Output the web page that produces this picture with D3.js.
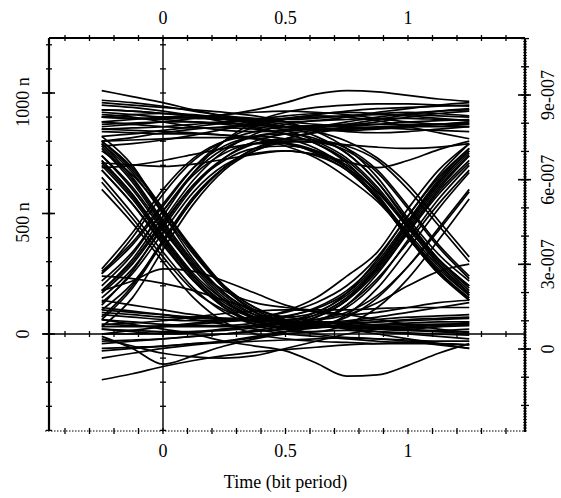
<!DOCTYPE html>
<html>
<head>
<meta charset="utf-8">
<script src="https://cdn.jsdelivr.net/npm/d3@7"></script>
<style>
body { margin: 0; background: #fff; }
text { font-family: "Liberation Serif", "Times New Roman", serif; fill: #000; }
</style>
</head>
<body>
<script>
// sample times of every trace (bit periods)
var xSamples = [-0.25, -0.125, 0, 0.125, 0.25, 0.375, 0.5, 0.625, 0.75, 0.875, 1, 1.125, 1.25];

// trace values in n (1e-9) at xSamples
var highTraces = [
  [1010, 985, 960, 930, 905, 890, 880, 885, 900, 920, 935, 950, 960],
  [930, 925, 915, 905, 895, 890, 895, 910, 925, 935, 940, 945, 950],
  [880, 890, 900, 905, 900, 885, 870, 860, 865, 880, 900, 915, 925],
  [850, 855, 860, 870, 880, 885, 880, 870, 860, 855, 860, 870, 880],
  [820, 830, 845, 860, 875, 890, 905, 915, 920, 915, 905, 895, 885],
  [950, 940, 925, 905, 880, 860, 850, 855, 870, 890, 910, 925, 935],
  [780, 790, 805, 825, 850, 875, 895, 905, 900, 885, 860, 835, 810],
  [690, 700, 720, 745, 770, 790, 800, 795, 785, 775, 770, 775, 790],
  [900, 895, 895, 900, 910, 930, 960, 995, 1010, 1005, 990, 975, 965],
  [710, 702, 695, 705, 725, 745, 760, 745, 715, 690, 720, 765, 800],
  [900, 910, 915, 910, 895, 875, 860, 850, 845, 850, 860, 870, 875],
  [860, 870, 880, 895, 910, 920, 925, 920, 910, 895, 880, 870, 860],
  [970, 960, 945, 925, 905, 895, 890, 895, 905, 915, 920, 915, 905],
  [800, 815, 835, 850, 860, 865, 860, 850, 840, 835, 840, 850, 860],
  [910, 900, 880, 860, 845, 840, 845, 860, 880, 900, 915, 925, 930]
];
var lowTraces = [
  [-190, -165, -135, -110, -90, -75, -65, -55, -45, -40, -35, -30, -30],
  [60, 40, 20, 0, -30, -50, -70, -120, -175, -170, -130, -80, -40],
  [-40, -30, -20, -10, 0, 10, 20, 30, 35, 30, 20, 10, 0],
  [20, 10, 0, 5, 20, 35, 45, 40, 25, 10, 0, -10, -20],
  [-70, -60, -50, -40, -30, -10, 10, 25, 30, 25, 20, 30, 50],
  [110, 95, 80, 60, 40, 20, 0, -10, -20, -30, -35, -40, -45],
  [-20, -50, -80, -95, -100, -90, -60, -30, 0, 20, 30, 35, 40],
  [0, 15, 30, 45, 55, 60, 55, 40, 20, 0, -20, -40, -60],
  [-10, -60, -125, -90, -50, -20, 0, 10, 15, 10, 5, 0, -5],
  [140, 120, 100, 80, 65, 55, 50, 50, 55, 70, 90, 110, 130],
  [180, 220, 270, 260, 220, 170, 120, 90, 80, 90, 110, 130, 140],
  [240, 230, 210, 180, 140, 100, 70, 60, 80, 130, 200, 260, 290],
  [90, 80, 70, 65, 60, 55, 50, 40, 30, 20, 15, 15, 20],
  [-100, -80, -60, -45, -35, -30, -25, -20, -15, -20, -30, -45, -60],
  [40, 45, 55, 70, 85, 95, 100, 95, 80, 60, 40, 20, 5]
];
var fallAtZero = [
  [630, 480, 320, 180, 100, 55, 35, 30, 35, 40, 45, 50, 50],
  [680, 540, 370, 220, 120, 65, 40, 30, 30, 30, 35, 40, 45],
  [720, 580, 410, 250, 140, 70, 40, 30, 30, 35, 40, 40, 40],
  [780, 640, 460, 290, 160, 80, 45, 35, 40, 50, 60, 65, 70],
  [790, 670, 500, 330, 190, 100, 55, 35, 25, 20, 15, 10, 10],
  [800, 690, 520, 340, 200, 110, 60, 40, 30, 25, 25, 30, 35],
  [760, 660, 510, 340, 190, 90, 30, 0, -15, -20, -25, -30, -30],
  [600, 460, 300, 150, 50, 0, -20, -30, -35, -40, -40, -40, -45],
  [740, 600, 430, 280, 180, 130, 110, 100, 100, 105, 110, 110, 110],
  [710, 570, 400, 240, 130, 70, 50, 45, 45, 50, 55, 60, 65],
  [820, 700, 500, 310, 170, 90, 55, 45, 50, 60, 70, 75, 80],
  [790, 650, 470, 300, 170, 90, 50, 60, 110, 220, 390, 560, 700],
  [720, 580, 400, 240, 120, 50, 30, 50, 120, 250, 420, 590, 720],
  [770, 630, 450, 280, 150, 80, 60, 80, 150, 270, 430, 600, 740],
  [680, 540, 380, 220, 110, 50, 40, 70, 140, 280, 460, 630, 760],
  [800, 680, 520, 350, 200, 110, 70, 90, 170, 310, 490, 650, 770],
  [650, 500, 340, 190, 90, 40, 25, 35, 70, 150, 280, 440, 600],
  [740, 610, 440, 270, 140, 60, 20, 25, 80, 190, 350, 520, 670],
  [700, 560, 390, 230, 110, 40, 10, 10, 40, 110, 230, 390, 560]
];
var riseAtZero = [
  [150, 270, 440, 610, 730, 800, 830, 845, 850, 855, 860, 860, 860],
  [250, 400, 580, 720, 800, 840, 860, 865, 870, 870, 870, 870, 870],
  [60, 190, 380, 560, 690, 770, 810, 835, 850, 855, 850, 845, 840],
  [250, 370, 530, 690, 800, 860, 890, 900, 905, 910, 910, 905, 900],
  [30, 150, 350, 540, 680, 760, 810, 840, 860, 870, 880, 885, 890],
  [200, 330, 510, 670, 770, 820, 840, 850, 855, 860, 865, 870, 870],
  [180, 310, 490, 670, 800, 880, 920, 940, 950, 955, 955, 950, 945],
  [180, 300, 470, 640, 760, 830, 870, 885, 890, 895, 895, 890, 885],
  [170, 290, 460, 620, 720, 770, 780, 760, 700, 590, 440, 290, 170],
  [220, 340, 510, 660, 750, 790, 790, 760, 690, 570, 410, 260, 150],
  [130, 250, 420, 590, 700, 750, 760, 740, 680, 560, 400, 250, 140],
  [260, 380, 540, 690, 780, 820, 830, 810, 750, 630, 470, 310, 190],
  [70, 200, 390, 570, 690, 760, 795, 800, 780, 720, 600, 450, 300],
  [270, 420, 600, 730, 800, 820, 810, 770, 690, 570, 420, 280, 160],
  [100, 210, 380, 560, 690, 770, 800, 795, 760, 670, 520, 360, 230],
  [120, 260, 450, 620, 730, 790, 810, 805, 770, 680, 530, 370, 240]
];
var fallAtOne = [
  [880, 870, 860, 855, 855, 850, 830, 790, 720, 600, 440, 290, 170],
  [920, 910, 900, 895, 890, 880, 860, 820, 750, 630, 460, 310, 200],
  [840, 835, 830, 830, 825, 815, 795, 750, 680, 560, 400, 250, 150],
  [960, 950, 940, 930, 920, 905, 880, 840, 770, 650, 480, 330, 220],
  [900, 895, 890, 880, 870, 855, 830, 790, 710, 580, 410, 260, 140],
  [870, 875, 880, 880, 875, 870, 860, 840, 800, 730, 620, 470, 320],
  [850, 845, 840, 835, 825, 810, 780, 730, 650, 550, 410, 270, 160],
  [800, 805, 810, 815, 815, 810, 790, 755, 690, 590, 450, 310, 200],
  [930, 925, 915, 905, 890, 870, 845, 800, 730, 610, 450, 300, 180]
];
var riseAtOne = [
  [20, 15, 10, 10, 15, 25, 45, 80, 150, 270, 440, 610, 740],
  [60, 50, 40, 35, 35, 45, 70, 110, 180, 300, 470, 640, 770],
  [-30, -25, -20, -10, 0, 15, 35, 70, 140, 260, 420, 580, 710],
  [100, 90, 80, 70, 65, 70, 90, 130, 200, 320, 490, 660, 790],
  [0, 0, 5, 10, 20, 30, 50, 90, 160, 280, 450, 620, 750],
  [40, 35, 30, 30, 30, 35, 45, 60, 90, 160, 280, 430, 590],
  [30, 30, 35, 40, 50, 65, 95, 150, 240, 340, 520, 680, 790],
  [-60, -55, -50, -40, -30, -15, 10, 50, 120, 230, 380, 540, 680],
  [80, 70, 60, 55, 55, 60, 75, 105, 170, 290, 460, 630, 760]
];

var xTickValues = [0, 0.5, 1];
var xTickLabels = ["0", "0.5", "1"];
var yTickValues = [0, 500, 1000];
var yTickLabels = ["0", "500 n", "1000 n"];
var y2TickValues = [0, 3, 6, 9];           // x 1e-7
var y2TickLabels = ["0", "3e-007", "6e-007", "9e-007"];
var xTitle = "Time (bit period)";

var W = 561, H = 498;
var svg = d3.select("body").append("svg").attr("width", W).attr("height", H);

var x = d3.scaleLinear().domain([-0.4653, 1.4776]).range([49, 525]);
var y = d3.scaleLinear().domain([-402.5, 1228.2]).range([431, 38]);
var y2 = d3.scaleLinear().domain([0, 9]).range([349, 95]);

var xMinor = d3.range(-4, 15).map(function(d) { return d / 10; });
var yMinor = d3.range(-4, 13).map(function(d) { return d * 100; });

// traces
var allTraces = [].concat(highTraces, lowTraces, fallAtZero, riseAtZero, fallAtOne, riseAtOne);
var line = d3.line()
  .x(function(d, i) { return x(xSamples[i]); })
  .y(function(d) { return y(d); })
  .curve(d3.curveMonotoneX);
svg.append("g").selectAll("path").data(allTraces).enter().append("path")
  .attr("d", line)
  .attr("fill", "none")
  .attr("stroke", "#000")
  .attr("stroke-width", 1.7);

var axes = svg.append("g").attr("stroke", "#000");

// frame: top solid, left solid, bottom dotted
axes.append("line").attr("x1", x.range()[0]).attr("x2", x.range()[1]).attr("y1", 38).attr("y2", 38).attr("stroke-width", 1.8);
axes.append("line").attr("x1", 49).attr("x2", 49).attr("y1", 38).attr("y2", 431).attr("stroke-width", 2.2);
axes.append("line").attr("x1", 45).attr("x2", 525).attr("y1", 431).attr("y2", 431)
  .attr("stroke-width", 1.2).attr("stroke-dasharray", "1.5,1.5");

// crosshair at x=0 and y=0
axes.append("line").attr("x1", x(0)).attr("x2", x(0)).attr("y1", 38).attr("y2", 431).attr("stroke-width", 1.4);
axes.append("line").attr("x1", 43).attr("x2", 525).attr("y1", y(0)).attr("y2", y(0)).attr("stroke-width", 1.6);

// x ticks on top, bottom and zero line
[38, 431, y(0)].forEach(function(yy) {
  axes.append("g").selectAll("line").data(xMinor).enter().append("line")
    .attr("x1", function(d) { return x(d); }).attr("x2", function(d) { return x(d); })
    .attr("y1", yy - 3).attr("y2", yy + 3).attr("stroke-width", 1.3);
});
// y ticks on left and on zero line
[49, x(0)].forEach(function(xx) {
  axes.append("g").selectAll("line").data(yMinor).enter().append("line")
    .attr("x1", xx - 3).attr("x2", xx + 3)
    .attr("y1", function(d) { return y(d); }).attr("y2", function(d) { return y(d); })
    .attr("stroke-width", 1.3);
});
axes.append("g").selectAll("line").data(yTickValues).enter().append("line")
  .attr("x1", 42).attr("x2", 55)
  .attr("y1", function(d) { return y(d); }).attr("y2", function(d) { return y(d); })
  .attr("stroke-width", 1.6);

// right axis (ruler)
var y2Lo = y2.invert(431), y2Hi = y2.invert(38);
axes.append("line").attr("x1", 525).attr("x2", 525).attr("y1", 38).attr("y2", 432).attr("stroke-width", 2.2);
var fine = d3.range(Math.ceil(y2Lo * 10), Math.floor(y2Hi * 10) + 1).map(function(d) { return d / 10; });
axes.append("g").selectAll("line").data(fine).enter().append("line")
  .attr("x1", 523).attr("x2", 527)
  .attr("y1", function(d) { return y2(d); }).attr("y2", function(d) { return y2(d); })
  .attr("stroke-width", 0.8);
var mid = d3.range(Math.ceil(y2Lo), Math.floor(y2Hi) + 1);
axes.append("g").selectAll("line").data(mid).enter().append("line")
  .attr("x1", 521).attr("x2", 529)
  .attr("y1", function(d) { return y2(d); }).attr("y2", function(d) { return y2(d); })
  .attr("stroke-width", 1.3);
axes.append("g").selectAll("line").data(y2TickValues).enter().append("line")
  .attr("x1", 518).attr("x2", 531)
  .attr("y1", function(d) { return y2(d); }).attr("y2", function(d) { return y2(d); })
  .attr("stroke-width", 1.6);

// labels
var fs = 18;
svg.append("g").selectAll("text").data(xTickValues).enter().append("text")
  .attr("x", function(d) { return x(d); }).attr("y", 24)
  .attr("text-anchor", "middle").attr("font-size", fs)
  .text(function(d, i) { return xTickLabels[i]; });
svg.append("g").selectAll("text").data(xTickValues).enter().append("text")
  .attr("x", function(d) { return x(d); }).attr("y", 457)
  .attr("text-anchor", "middle").attr("font-size", fs)
  .text(function(d, i) { return xTickLabels[i]; });
svg.append("g").selectAll("text").data(yTickValues).enter().append("text")
  .attr("transform", function(d, i) { return "translate(29," + (y(d) + (i ? 9 : 0)) + ") rotate(-90)"; })
  .attr("text-anchor", "middle").attr("font-size", fs)
  .text(function(d, i) { return yTickLabels[i]; });
svg.append("g").selectAll("text").data(y2TickValues).enter().append("text")
  .attr("transform", function(d) { return "translate(554," + y2(d) + ") rotate(-90)"; })
  .attr("text-anchor", "middle").attr("font-size", fs)
  .text(function(d, i) { return y2TickLabels[i]; });
svg.append("text").attr("x", x(0.5)).attr("y", 488)
  .attr("text-anchor", "middle").attr("font-size", fs)
  .text(xTitle);
</script>
</body>
</html>
